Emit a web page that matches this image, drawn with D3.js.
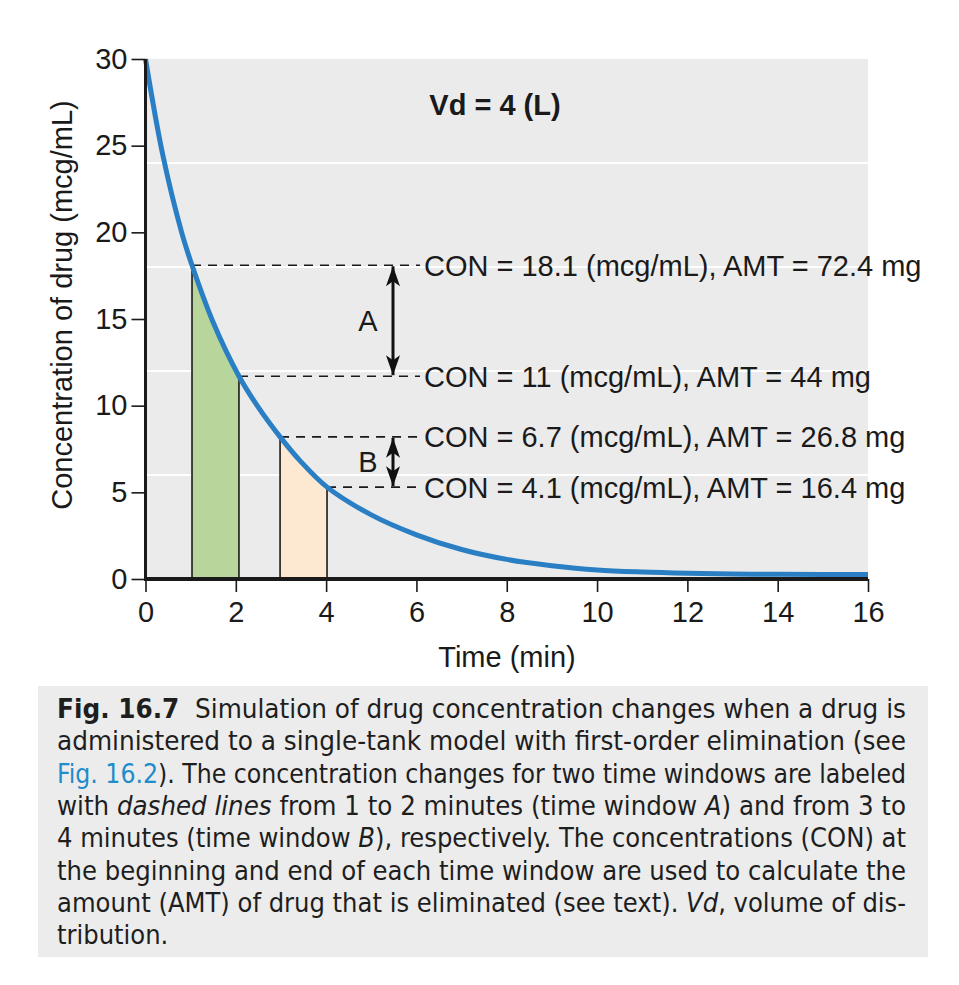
<!DOCTYPE html>
<html><head><meta charset="utf-8">
<script src="https://cdn.jsdelivr.net/npm/d3@7"></script>
<style>body{margin:0;background:#fff}svg{display:block}</style>
</head><body><svg id="c" width="959" height="985"></svg>
<script>
// ---- data ----
const timeMin = [0,0.38,0.8,1.03,1.5,2.07,2.5,2.98,3.43,4.02,5,6,7,8,9,10,11,12,13,14,15,16];
const concentration = [30,24.5,20,18.1,14.8,11.7,9.9,8.2,6.8,5.3,3.7,2.55,1.7,1.13,0.77,0.52,0.4,0.33,0.29,0.27,0.26,0.26];
const windowNames = ["A","B"];
const windowStart = [1.03, 2.98];
const windowEnd = [2.07, 4.02];
const windowStartConc = [18.1, 8.2];
const windowEndConc = [11.7, 5.3];
const conLevels = [18.1, 11.7, 8.2, 5.3];
const conLabels = ["CON = 18.1 (mcg/mL), AMT = 72.4 mg","CON = 11 (mcg/mL), AMT = 44 mg","CON = 6.7 (mcg/mL), AMT = 26.8 mg","CON = 4.1 (mcg/mL), AMT = 16.4 mg"];
const xTicks = [0,2,4,6,8,10,12,14,16];
const yTicks = [0,5,10,15,20,25,30];
const gridValues = [6,12,18,24];
const titleText = "Vd = 4 (L)";
const xTitle = "Time (min)";
const yTitle = "Concentration of drug (mcg/mL)";
const captionLines = [
  [["Fig. 16.7","b"],["  Simulation of drug concentration changes when a drug is",""]],
  [["administered to a single-tank model with first-order elimination (see",""]],
  [["Fig. 16.2","l"],["). The concentration changes for two time windows are labeled",""]],
  [["with ",""],["dashed lines","i"],[" from 1 to 2 minutes (time window ",""],["A","i"],[") and from 3 to",""]],
  [["4 minutes (time window ",""],["B","i"],["), respectively. The concentrations (CON) at",""]],
  [["the beginning and end of each time window are used to calculate the",""]],
  [["amount (AMT) of drug that is eliminated (see text). ",""],["Vd","i"],[", volume of dis-",""]],
  [["tribution.",""]]
];

// ---- drawing ----
const svg = d3.select("#c");
const FONT = "'Liberation Sans', Arial, Helvetica, sans-serif";
const FS = 29;
const x = d3.scaleLinear().domain([0,16]).range([145.5,868]);
const y = d3.scaleLinear().domain([0,30]).range([579,59]);
const pts = timeMin.map((t,i)=>[t,concentration[i]]);
const curveType = d3.curveCatmullRom.alpha(0.5);

svg.append("rect").attr("x",x(0)).attr("y",y(30)).attr("width",x(16)-x(0)).attr("height",y(0)-y(30)).attr("fill","#ebebeb");
svg.selectAll(".grid").data(gridValues).join("line").attr("class","grid")
  .attr("x1",x(0)).attr("x2",x(16)).attr("y1",d=>y(d)).attr("y2",d=>y(d))
  .attr("stroke","#fff").attr("stroke-width",2);

const defs = svg.append("defs");
const fills = ["#b8d69b","#fde9d1"];
windowNames.forEach((n,i)=>{
  defs.append("clipPath").attr("id","clip"+i).append("rect")
    .attr("x",x(windowStart[i])).attr("y",0).attr("width",x(windowEnd[i])-x(windowStart[i])).attr("height",y(0));
});
const area = d3.area().x(d=>x(d[0])).y0(y(0)).y1(d=>y(d[1])).curve(curveType);
windowNames.forEach((n,i)=>{
  svg.append("path").datum(pts).attr("d",area).attr("fill",fills[i]).attr("clip-path","url(#clip"+i+")");
});
// vertical lines
const vt = [], vc = [];
windowNames.forEach((n,i)=>{vt.push(windowStart[i],windowEnd[i]); vc.push(windowStartConc[i],windowEndConc[i]);});
svg.selectAll(".vline").data(vt).join("line").attr("class","vline")
  .attr("x1",d=>x(d)).attr("x2",d=>x(d)).attr("y1",y(0)).attr("y2",(d,i)=>y(vc[i]))
  .attr("stroke","#1a1a1a").attr("stroke-width",1.6);
// dashed lines
svg.selectAll(".dline").data(conLevels).join("line").attr("class","dline")
  .attr("x1",(d,i)=>x(vt[i])).attr("x2",420).attr("y1",d=>y(d)).attr("y2",d=>y(d))
  .attr("stroke","#1a1a1a").attr("stroke-width",1.6).attr("stroke-dasharray","9,7");
// curve
const line = d3.line().x(d=>x(d[0])).y(d=>y(d[1])).curve(curveType);
svg.append("path").datum(pts).attr("d",line).attr("fill","none").attr("stroke","#2a7fc4").attr("stroke-width",5);

// arrows
defs.append("marker").attr("id","ah").attr("viewBox","0 0 20 14").attr("refX",20).attr("refY",7)
  .attr("markerWidth",20).attr("markerHeight",14).attr("markerUnits","userSpaceOnUse").attr("orient","auto-start-reverse")
  .append("path").attr("d","M0,0 L20,7 L0,14 L5,7 Z").attr("fill","#111");
windowNames.forEach((n,i)=>{
  svg.append("line").attr("x1",393).attr("x2",393).attr("y1",y(windowStartConc[i])+1).attr("y2",y(windowEndConc[i])-1)
    .attr("stroke","#111").attr("stroke-width",3).attr("marker-start","url(#ah)").attr("marker-end","url(#ah)");
  svg.append("text").attr("x",368).attr("y",(y(windowStartConc[i])+y(windowEndConc[i]))/2)
    .attr("dy","0.36em").attr("text-anchor","middle").attr("font-family",FONT).attr("font-size",FS).attr("fill","#1a1a1a").text(n);
});
// CON labels
svg.selectAll(".con").data(conLabels).join("text").attr("class","con")
  .attr("x",424).attr("y",(d,i)=>y(conLevels[i])).attr("dy","0.36em")
  .attr("font-family",FONT).attr("font-size",FS).attr("fill","#1a1a1a").text(d=>d);
// title
svg.append("text").attr("x",495).attr("y",105).attr("dy","0.36em").attr("text-anchor","middle")
  .attr("font-family",FONT).attr("font-weight","bold").attr("font-size",FS).attr("fill","#1a1a1a").text(titleText);

// axes
const gx = svg.append("g").attr("transform",`translate(0,${y(0)})`)
  .call(d3.axisBottom(x).tickValues(xTicks).tickSize(13).tickPadding(9));
const gy = svg.append("g").attr("transform",`translate(${x(0)},0)`)
  .call(d3.axisLeft(y).tickValues(yTicks).tickSize(14).tickPadding(4));
[gx,gy].forEach(g=>{
  g.selectAll("text").attr("font-family",FONT).attr("font-size",FS).attr("fill","#1a1a1a");
  g.selectAll(".tick line").attr("stroke","#1a1a1a").attr("stroke-width",1.6);
  g.select(".domain").remove();
});
svg.append("line").attr("x1",x(0)).attr("x2",x(0)).attr("y1",y(30)).attr("y2",y(0)+1.5).attr("stroke","#1a1a1a").attr("stroke-width",3);
svg.append("line").attr("x1",x(0)-1.5).attr("x2",x(16)).attr("y1",y(0)).attr("y2",y(0)).attr("stroke","#1a1a1a").attr("stroke-width",4);

svg.append("text").attr("x",507).attr("y",657).attr("dy","0.36em").attr("text-anchor","middle")
  .attr("font-family",FONT).attr("font-size",FS).attr("fill","#1a1a1a").text(xTitle);
svg.append("text").attr("transform","translate(62,305) rotate(-90)").attr("dy","0.36em").attr("text-anchor","middle")
  .attr("font-family",FONT).attr("font-size",FS).attr("fill","#1a1a1a").text(yTitle);

// caption
svg.append("rect").attr("x",38).attr("y",686).attr("width",890).attr("height",271).attr("fill","#ececec");
const CFONT = "'DejaVu Sans Condensed','Liberation Sans Narrow','Open Sans',sans-serif";
captionLines.forEach((segs,i)=>{
  const t = svg.append("text").attr("x",57).attr("y",718+i*32.3)
    .attr("font-family",CFONT).attr("font-size",27).attr("fill","#1e1e1e").style("white-space","pre");
  segs.forEach(s=>{
    const ts = t.append("tspan").text(s[0]);
    if (s[1]==="b") ts.attr("font-weight","bold");
    if (s[1]==="i") ts.attr("font-style","italic");
    if (s[1]==="l") ts.attr("fill","#1f8ccb");
  });
  if (i < captionLines.length-1) t.attr("textLength",849).attr("lengthAdjust","spacingAndGlyphs");
});
</script></body></html>
